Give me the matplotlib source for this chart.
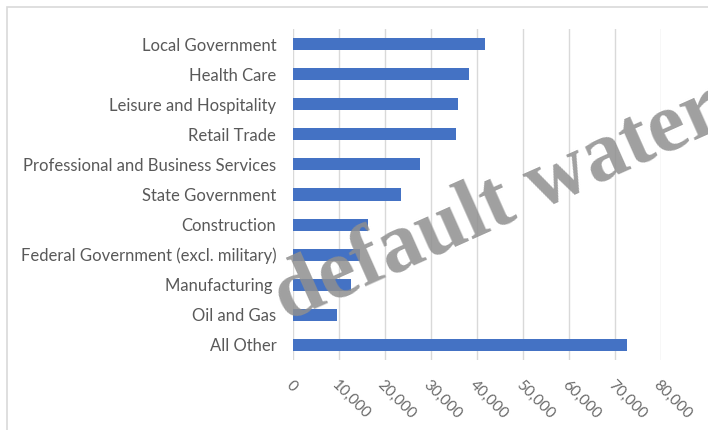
import numpy as np
import matplotlib.pyplot as plt
from matplotlib.patches import Rectangle

sectors = ['Local Government', 'Health Care', 'Leisure and Hospitality', 'Retail Trade',
           'Professional and Business Services', 'State Government', 'Construction',
           'Federal Government (excl. military)', 'Manufacturing ', 'Oil and Gas', 'All Other']
jobs = [41800, 38300, 35900, 35400, 27500, 23400, 16400, 14600, 12600, 9500, 72500]
xticks = [0, 10000, 20000, 30000, 40000, 50000, 60000, 70000, 80000]

plt.rcParams['font.family'] = ['Lato', 'DejaVu Sans']

fig = plt.figure(figsize=(7.08, 4.30), dpi=100)
ax = fig.add_axes([293 / 708, 1 - 360 / 430, 368 / 708, 331 / 430])

# light frame around chart area
fig.patches.append(Rectangle((7 / 708, -0.1), 1.0, 1 - 7 / 430 + 0.1, transform=fig.transFigure,
                             fill=False, edgecolor='#d9d9d9', linewidth=1.2))

y = np.arange(len(sectors))
ax.barh(y, jobs, height=0.4, color='#4472c4', zorder=2)
ax.set_ylim(len(sectors) - 0.5, -0.5)
ax.set_xlim(0, 80000)
ax.set_yticks(y)
ax.set_yticklabels(sectors, fontsize=12, color='#595959')
ax.set_xticks(xticks)
ax.set_xticklabels([f'{v:,}' for v in xticks], rotation=-45, ha='left', va='top',
                   rotation_mode='anchor', fontsize=11, color='#6a6a6a')
ax.grid(axis='x', color='#d9d9d9', linewidth=1, zorder=0)
for s in ax.spines.values():
    s.set_visible(False)
ax.tick_params(axis='y', length=0, pad=12)
ax.tick_params(axis='x', length=0, pad=13)

fig.text(287 / 708, 1 - 322 / 430, 'default watermark', rotation=24, rotation_mode='anchor',
         ha='left', va='baseline', fontsize=61, fontweight='bold', family='Liberation Serif',
         color='#8f8f8f', alpha=0.85, zorder=5)

fig.savefig('out.png', dpi=100)
